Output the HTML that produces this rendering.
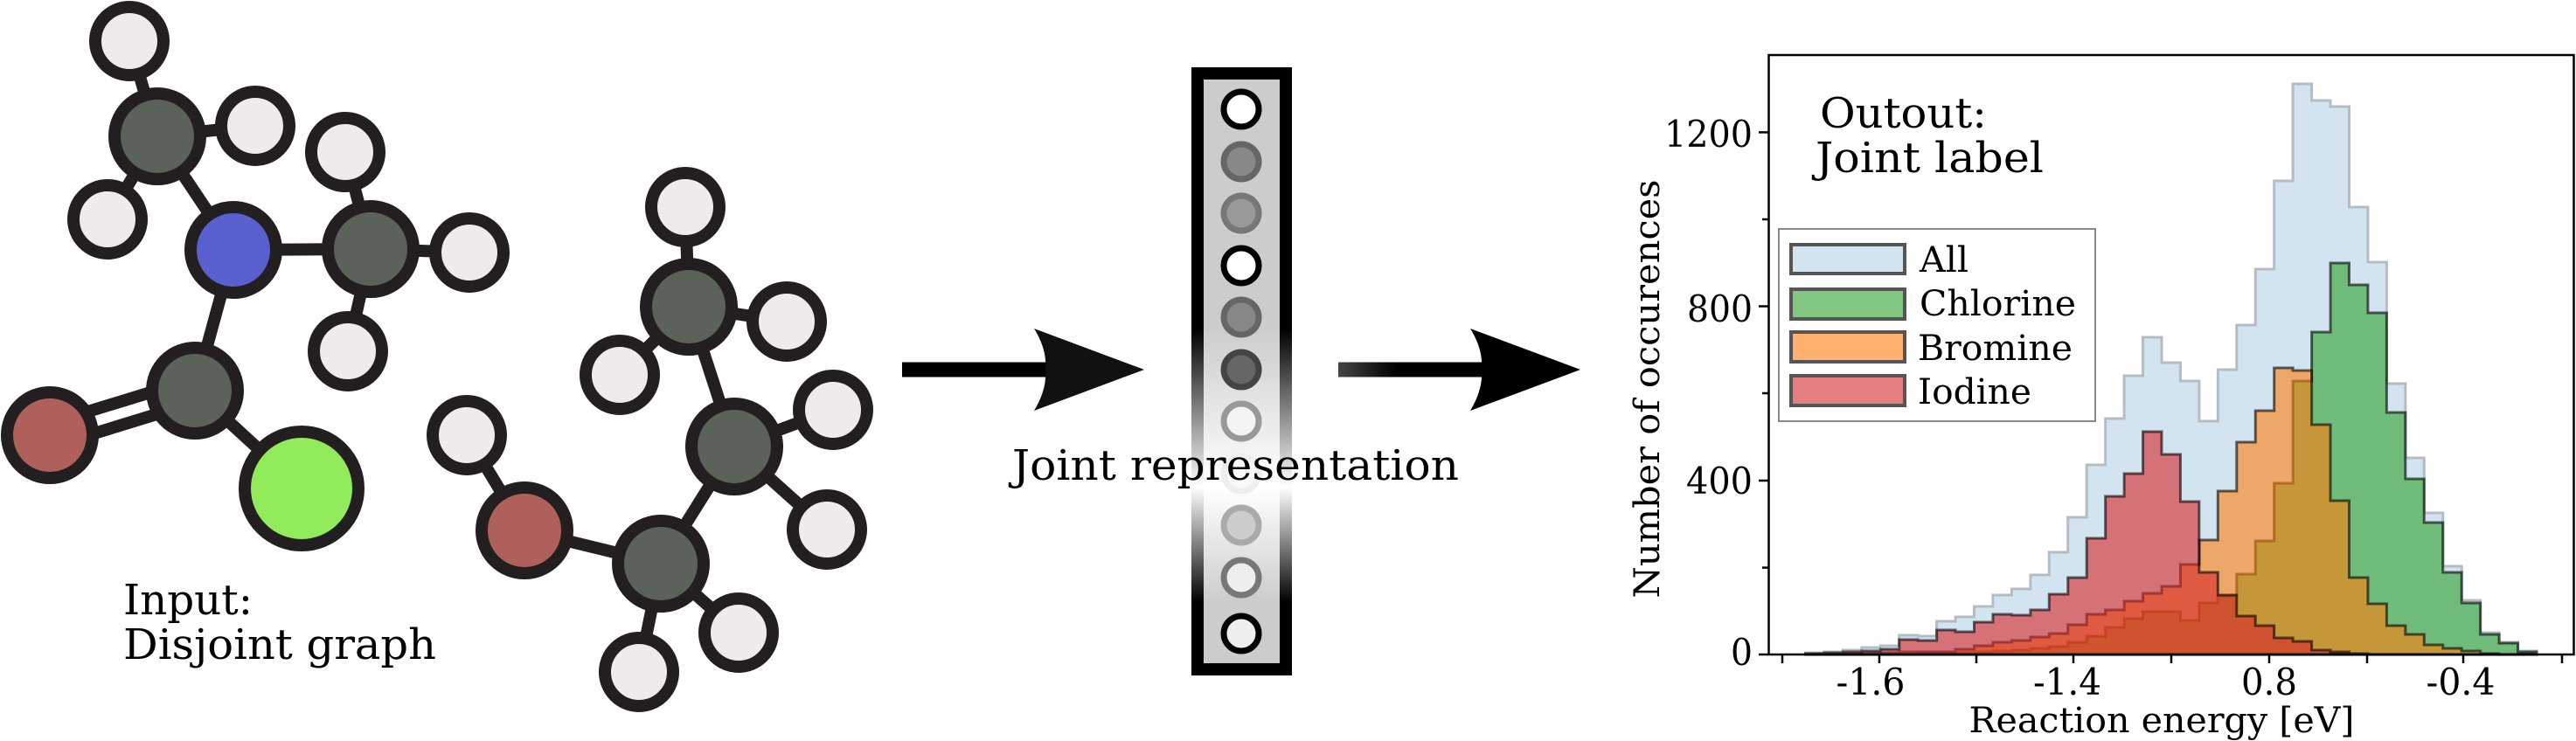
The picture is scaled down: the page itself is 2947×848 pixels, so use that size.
<!DOCTYPE html>
<html><head><meta charset="utf-8"><style>
html,body{margin:0;padding:0;background:#fff;}
svg{display:block;}
text{font-family:"DejaVu Serif","Liberation Serif",serif;fill:#000;}
</style></head><body>
<svg width="2947" height="848" viewBox="0 0 2947 848" xmlns="http://www.w3.org/2000/svg">
<defs>
<linearGradient id="bs" x1="0" y1="77" x2="0" y2="773" gradientUnits="userSpaceOnUse">
<stop offset="0" stop-color="#000"/><stop offset="0.43" stop-color="#000"/><stop offset="0.69" stop-color="#fff"/><stop offset="0.88" stop-color="#000"/><stop offset="1" stop-color="#000"/>
</linearGradient>
<linearGradient id="bf" x1="0" y1="77" x2="0" y2="773" gradientUnits="userSpaceOnUse">
<stop offset="0" stop-color="#ccc"/><stop offset="0.43" stop-color="#ccc"/><stop offset="0.69" stop-color="#fff"/><stop offset="0.88" stop-color="#ccc"/><stop offset="1" stop-color="#ccc"/>
</linearGradient>
<linearGradient id="ag" x1="1531" y1="0" x2="1700" y2="0" gradientUnits="userSpaceOnUse">
<stop offset="0" stop-color="#444"/><stop offset="0.4" stop-color="#000"/>
</linearGradient>
</defs>

<!-- Molecule bonds -->
<g stroke="#231f20" stroke-width="14" stroke-linecap="butt">
<line x1="148" y1="47" x2="180" y2="156"/>
<line x1="180" y1="156" x2="292" y2="144"/>
<line x1="180" y1="156" x2="123" y2="251"/>
<line x1="180" y1="156" x2="267" y2="286"/>
<line x1="267" y1="286" x2="424" y2="285"/>
<line x1="424" y1="285" x2="395" y2="174"/>
<line x1="424" y1="285" x2="537" y2="289"/>
<line x1="424" y1="285" x2="398" y2="402"/>
<line x1="267" y1="286" x2="223" y2="447"/>
<line x1="223" y1="447" x2="345" y2="559"/>
<line x1="784" y1="237" x2="788" y2="351"/>
<line x1="788" y1="351" x2="900" y2="368"/>
<line x1="788" y1="351" x2="709" y2="429"/>
<line x1="788" y1="351" x2="840" y2="511"/>
<line x1="840" y1="511" x2="953" y2="469"/>
<line x1="840" y1="511" x2="946" y2="606"/>
<line x1="840" y1="511" x2="756" y2="645"/>
<line x1="756" y1="645" x2="600" y2="607"/>
<line x1="600" y1="607" x2="534" y2="498"/>
<line x1="756" y1="645" x2="731" y2="769"/>
<line x1="756" y1="645" x2="845" y2="724"/>
</g>
<line x1="57" y1="498" x2="223" y2="447" stroke="#231f20" stroke-width="40"/>
<line x1="57" y1="498" x2="223" y2="447" stroke="#fff" stroke-width="12"/>

<!-- Molecule atoms -->
<g stroke="#231f20" stroke-width="14">
<g fill="#f0eaee">
<circle cx="148" cy="47" r="39"/><circle cx="292" cy="144" r="39"/><circle cx="123" cy="251" r="39"/>
<circle cx="395" cy="174" r="39"/><circle cx="537" cy="289" r="39"/><circle cx="398" cy="402" r="39"/>
<circle cx="784" cy="237" r="39"/><circle cx="900" cy="368" r="39"/><circle cx="709" cy="429" r="39"/>
<circle cx="953" cy="469" r="39"/><circle cx="946" cy="606" r="39"/><circle cx="534" cy="498" r="39"/>
<circle cx="731" cy="769" r="39"/><circle cx="845" cy="724" r="39"/>
</g>
<g fill="#5a625a">
<circle cx="180" cy="156" r="49"/><circle cx="424" cy="285" r="49"/><circle cx="223" cy="447" r="49"/>
<circle cx="788" cy="351" r="49"/><circle cx="840" cy="511" r="49"/><circle cx="756" cy="645" r="49"/>
</g>
<circle cx="267" cy="286" r="49" fill="#5a5fcf"/>
<circle cx="57" cy="498" r="49" fill="#b0605a"/>
<circle cx="600" cy="607" r="49" fill="#b0605a"/>
<circle cx="345" cy="559" r="65" fill="#90ea5a"/>
</g>
<text x="141" y="703" font-size="48" textLength="148" lengthAdjust="spacingAndGlyphs">Input:</text>
<text x="141" y="754" font-size="48" textLength="358" lengthAdjust="spacingAndGlyphs">Disjoint graph</text>

<!-- Arrows -->
<rect x="1032" y="414.5" width="165" height="17" fill="#000"/>
<path d="M1183,376 L1309,423 L1183,470 Q1198,445 1196,423 Q1198,400 1183,376 Z" fill="#111"/>
<rect x="1531" y="414.5" width="165" height="17" fill="url(#ag)"/>
<path d="M1682,376 L1808,423 L1682,470 Q1697,445 1695,423 Q1697,400 1682,376 Z" fill="#000"/>

<!-- Vector box -->
<rect x="1370" y="84" width="101" height="682" fill="url(#bf)" stroke="url(#bs)" stroke-width="14"/>
<g stroke-width="7">
<circle cx="1420" cy="125" r="20" fill="#fff" stroke="#000"/>
<circle cx="1420" cy="185" r="20" fill="#888" stroke="#666"/>
<circle cx="1420" cy="244" r="20" fill="#999" stroke="#777"/>
<circle cx="1420" cy="304" r="20" fill="#fff" stroke="#000"/>
<circle cx="1420" cy="363" r="20" fill="#888" stroke="#666"/>
<circle cx="1420" cy="423" r="20" fill="#666" stroke="#444"/>
<circle cx="1420" cy="482" r="20" fill="#f4f4f4" stroke="#999"/>
<circle cx="1420" cy="542" r="20" fill="#fafafa" stroke="#eee"/>
<circle cx="1420" cy="601" r="20" fill="#ccc" stroke="#aaa"/>
<circle cx="1420" cy="661" r="20" fill="#eee" stroke="#777"/>
<circle cx="1420" cy="725" r="20" fill="#eee" stroke="#000"/>
</g>
<text x="1158" y="549" font-size="48" textLength="511" lengthAdjust="spacingAndGlyphs">Joint representation</text>

<!-- Histogram -->
<path d="M2065.45,749 V747h21.45V746h21.45V744h21.45V741h21.45V739h21.45V727h21.45V728h21.45V711h21.45V706h21.45V694h21.45V681h21.45V674h21.45V658h21.45V632h21.45V592h21.45V532h21.45V479h21.45V430h21.45V386h21.45V415h21.45V436h21.45V482h21.45V423h21.45V372h21.45V308h21.45V207h21.45V96h21.45V115h21.45V122h21.45V237h21.45V300h21.45V439h21.45V524h21.45V587h21.45V648h21.45V687h21.45V724h21.45V735h21.45V745h21.45V749Z" fill="#d2e4f0" stroke="#b4bcc4" stroke-width="3"/>
<path d="M2065.45,749 V749h21.45V749h21.45V749h21.45V749h21.45V749h21.45V749h21.45V748h21.45V748h21.45V747h21.45V746h21.45V745h21.45V744h21.45V742h21.45V740h21.45V735h21.45V728h21.45V718h21.45V708h21.45V700h21.45V700h21.45V710h21.45V690h21.45V682h21.45V657h21.45V619h21.45V553h21.45V436h21.45V380h21.45V301h21.45V326h21.45V358h21.45V472h21.45V548h21.45V598h21.45V655h21.45V690h21.45V726h21.45V736h21.45V746h21.45V749Z" fill="#2ca02c" fill-opacity="0.6" stroke="#000" stroke-opacity="0.6" stroke-width="3"/>
<path d="M2065.45,749 V749h21.45V749h21.45V749h21.45V748h21.45V747h21.45V746h21.45V746h21.45V746h21.45V743h21.45V739h21.45V735h21.45V733h21.45V729h21.45V725h21.45V715h21.45V703h21.45V698h21.45V688h21.45V679h21.45V671h21.45V646h21.45V618h21.45V562h21.45V506h21.45V470h21.45V421h21.45V424h21.45V486h21.45V573h21.45V661h21.45V691h21.45V716h21.45V726h21.45V738h21.45V742h21.45V745h21.45V748h21.45V749h21.45V749h21.45V749Z" fill="#ff7f0e" fill-opacity="0.6" stroke="#000" stroke-opacity="0.6" stroke-width="3"/>
<path d="M2065.45,749 V748h21.45V747h21.45V746h21.45V745h21.45V743h21.45V732h21.45V733h21.45V721h21.45V723h21.45V712h21.45V703h21.45V704h21.45V698h21.45V680h21.45V661h21.45V616h21.45V568h21.45V542h21.45V494h21.45V520h21.45V574h21.45V655h21.45V681h21.45V705h21.45V716h21.45V730h21.45V734h21.45V744h21.45V746h21.45V748h21.45V749h21.45V749h21.45V749h21.45V749h21.45V749h21.45V749h21.45V749h21.45V749h21.45V749Z" fill="#d62728" fill-opacity="0.6" stroke="#000" stroke-opacity="0.6" stroke-width="3"/>

<!-- Axes -->
<rect x="2023.5" y="63" width="921" height="686" fill="none" stroke="#000" stroke-width="2.5"/>
<g stroke="#000" stroke-width="2.5">
<line x1="2012" y1="749" x2="2023" y2="749"/><line x1="2012" y1="550" x2="2023" y2="550"/>
<line x1="2012" y1="350.5" x2="2023" y2="350.5"/><line x1="2012" y1="151.4" x2="2023" y2="151.4"/>
<line x1="2016" y1="649.6" x2="2023" y2="649.6"/><line x1="2016" y1="450" x2="2023" y2="450"/><line x1="2016" y1="251" x2="2023" y2="251"/>
<line x1="2039" y1="749" x2="2039" y2="759"/><line x1="2150" y1="749" x2="2150" y2="759"/>
<line x1="2261" y1="749" x2="2261" y2="759"/><line x1="2372" y1="749" x2="2372" y2="759"/>
<line x1="2484" y1="749" x2="2484" y2="759"/><line x1="2596" y1="749" x2="2596" y2="759"/>
<line x1="2708" y1="749" x2="2708" y2="759"/><line x1="2818" y1="749" x2="2818" y2="759"/>
<line x1="2931" y1="749" x2="2931" y2="759"/>
</g>
<g font-size="42" text-anchor="end">
<text x="2005" y="168" textLength="101" lengthAdjust="spacingAndGlyphs">1200</text>
<text x="2005" y="368" textLength="75" lengthAdjust="spacingAndGlyphs">800</text>
<text x="2005" y="565" textLength="76" lengthAdjust="spacingAndGlyphs">400</text>
<text x="2005" y="761" textLength="25" lengthAdjust="spacingAndGlyphs">0</text>
</g>
<g font-size="42" text-anchor="middle">
<text x="2140" y="795" textLength="79" lengthAdjust="spacingAndGlyphs">-1.6</text>
<text x="2365" y="795" textLength="78" lengthAdjust="spacingAndGlyphs">-1.4</text>
<text x="2596" y="795" textLength="64" lengthAdjust="spacingAndGlyphs">0.8</text>
<text x="2815" y="795" textLength="79" lengthAdjust="spacingAndGlyphs">-0.4</text>
</g>
<text x="2473" y="838" font-size="40" text-anchor="middle" textLength="441" lengthAdjust="spacingAndGlyphs">Reaction energy [eV]</text>
<text transform="translate(1898,445) rotate(-90)" x="0" y="0" font-size="40" text-anchor="middle" textLength="479" lengthAdjust="spacingAndGlyphs">Number of occurences</text>
<text x="2082" y="146" font-size="48" textLength="191" lengthAdjust="spacingAndGlyphs">Outout:</text>
<text x="2077" y="197" font-size="48" textLength="261" lengthAdjust="spacingAndGlyphs">Joint label</text>

<!-- Legend -->
<rect x="2035" y="262" width="362" height="220" fill="#fff" fill-opacity="0.85" stroke="#888" stroke-width="2"/>
<g stroke="#555" stroke-width="4">
<rect x="2049" y="280" width="130" height="33" fill="#d2e4f0"/>
<rect x="2049" y="331" width="130" height="34" fill="#80c680"/>
<rect x="2049" y="380" width="130" height="34" fill="#ffb26e"/>
<rect x="2049" y="430" width="130" height="34" fill="#e67d7e"/>
</g>
<g font-size="40">
<text x="2196" y="311" textLength="56" lengthAdjust="spacingAndGlyphs">All</text>
<text x="2196" y="361" textLength="179" lengthAdjust="spacingAndGlyphs">Chlorine</text>
<text x="2194" y="412" textLength="177" lengthAdjust="spacingAndGlyphs">Bromine</text>
<text x="2194" y="462" textLength="130" lengthAdjust="spacingAndGlyphs">Iodine</text>
</g>
</svg>
</body></html>
